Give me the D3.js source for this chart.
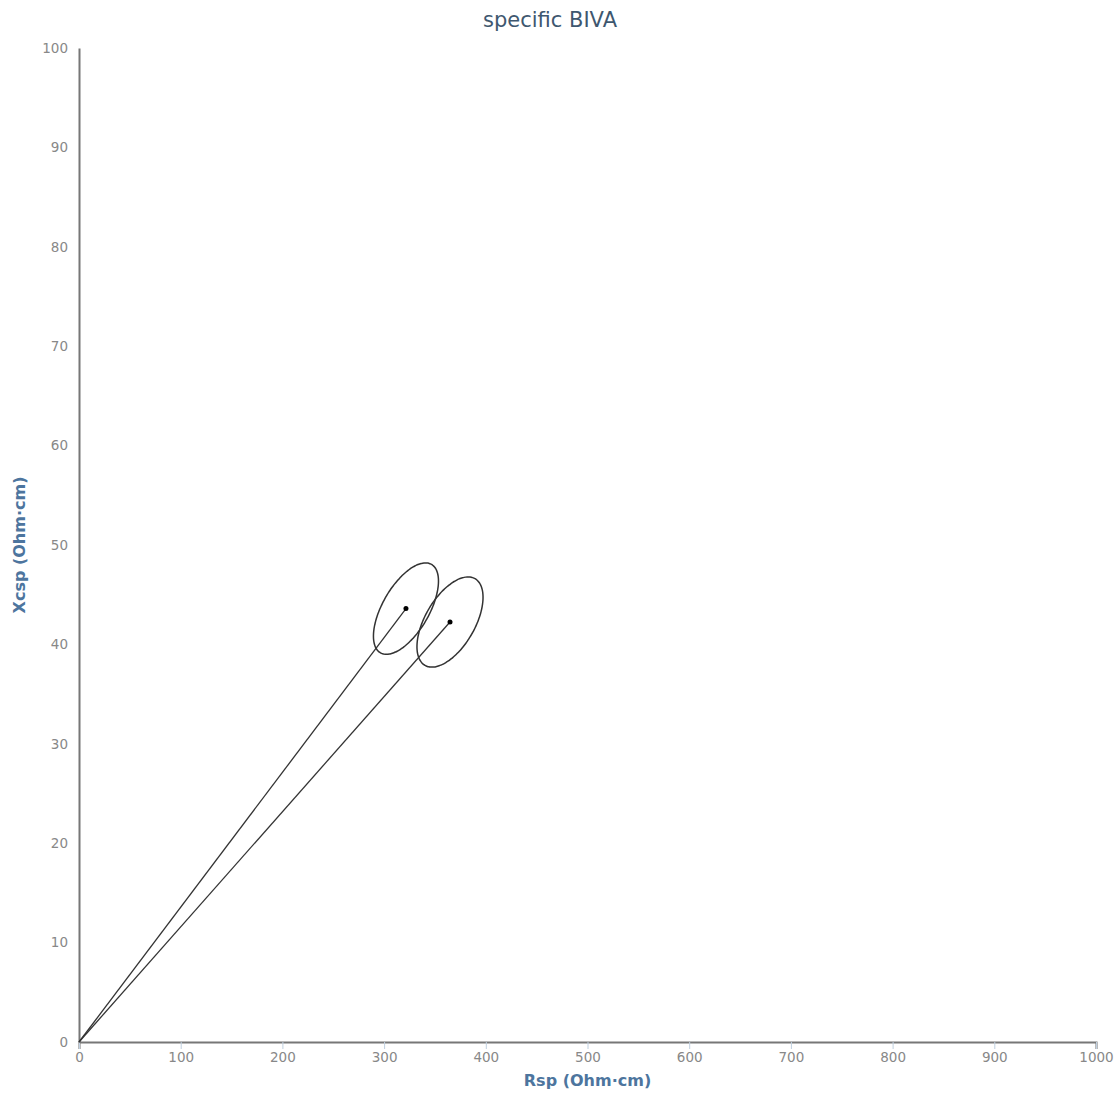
<!DOCTYPE html>
<html>
<head>
<meta charset="utf-8">
<script src="https://cdnjs.cloudflare.com/ajax/libs/d3/7.8.5/d3.min.js"></script>
<style>
  body { margin: 0; background: #fff; }
  svg { font-family: "DejaVu Sans", Verdana, sans-serif; }
</style>
</head>
<body>
<div id="chart"></div>
<script>
// data
var seriesNames = ["A", "B"];
var rsp = [321.5, 364.8];      // mean vector, Rsp (Ohm·cm)
var xcsp = [43.6, 42.25];      // mean vector, Xcsp (Ohm·cm)
// ellipse semi axes, data units: [dRsp, dXcsp]
var majorAxis = [[25.1, 4.45], [24.6, 4.36]];
var minorAxis = [[19.8, -1.17], [21.2, -1.25]];
var xTicks = [0, 100, 200, 300, 400, 500, 600, 700, 800, 900, 1000];
var yTicks = [0, 10, 20, 30, 40, 50, 60, 70, 80, 90, 100];

var W = 1116, H = 1099;
var margin = {top: 48, right: 20, bottom: 57, left: 79};
var width = W - margin.left - margin.right;
var height = H - margin.top - margin.bottom;

var svg = d3.select("#chart").append("svg")
  .attr("width", W)
  .attr("height", H);

var x = d3.scaleLinear().domain([0, 1000]).range([margin.left, margin.left + width]);
var y = d3.scaleLinear().domain([0, 100]).range([margin.top + height, margin.top]);

// title
svg.append("text")
  .attr("x", 550).attr("y", 27)
  .attr("text-anchor", "middle")
  .style("font-size", "21px")
  .style("fill", "#3e576f")
  .text("specific BIVA");

// x axis
var xAxis = svg.append("g")
  .attr("transform", "translate(0," + y(0) + ")")
  .call(d3.axisBottom(x).tickValues(xTicks).tickFormat(d3.format("d")).tickSize(7).tickPadding(3));
xAxis.select(".domain").attr("stroke", "#777").attr("stroke-width", 2);
xAxis.selectAll(".tick line").attr("stroke", "#c0d0e0");
xAxis.selectAll(".tick text").attr("font-size", null).style("font-size", "13.5px").style("fill", "#888");
xAxis.attr("font-size", null).attr("font-family", null);

// y axis
var yAxis = svg.append("g")
  .attr("transform", "translate(" + x(0) + ",0)")
  .call(d3.axisLeft(y).tickValues(yTicks).tickSize(0).tickPadding(11));
yAxis.select(".domain").attr("stroke", "#777").attr("stroke-width", 2);
yAxis.selectAll(".tick text").style("font-size", "13.5px").style("fill", "#888");
yAxis.attr("font-size", null).attr("font-family", null);

// axis titles
svg.append("text")
  .attr("x", (x(0) + x(1000)) / 2).attr("y", 1086)
  .attr("text-anchor", "middle")
  .style("font-size", "16px").style("font-weight", "bold")
  .style("fill", "#4d759e")
  .text("Rsp (Ohm·cm)");

svg.append("text")
  .attr("transform", "translate(25," + (y(0) + y(100)) / 2 + ") rotate(-90)")
  .attr("text-anchor", "middle")
  .style("font-size", "16px").style("font-weight", "bold")
  .style("fill", "#4d759e")
  .text("Xcsp (Ohm·cm)");

var line = d3.line().x(function(d) { return x(d[0]); }).y(function(d) { return y(d[1]); });

seriesNames.forEach(function(name, i) {
  // vector from origin
  svg.append("path")
    .attr("d", line([[0, 0], [rsp[i], xcsp[i]]]))
    .attr("fill", "none")
    .attr("stroke", "#333")
    .attr("stroke-width", 1.3);

  // ellipse
  var pts = d3.range(0, 360, 3).map(function(a) {
    var t = a * Math.PI / 180;
    return [rsp[i] + majorAxis[i][0] * Math.cos(t) + minorAxis[i][0] * Math.sin(t),
            xcsp[i] + majorAxis[i][1] * Math.cos(t) + minorAxis[i][1] * Math.sin(t)];
  });
  svg.append("path")
    .attr("d", d3.line().x(function(d) { return x(d[0]); }).y(function(d) { return y(d[1]); })
      .curve(d3.curveCardinalClosed)(pts))
    .attr("fill", "none")
    .attr("stroke", "#333")
    .attr("stroke-width", 1.5);

  svg.append("circle")
    .attr("cx", x(rsp[i]))
    .attr("cy", y(xcsp[i]))
    .attr("r", 2.5)
    .attr("fill", "#000");
});
</script>
</body>
</html>
